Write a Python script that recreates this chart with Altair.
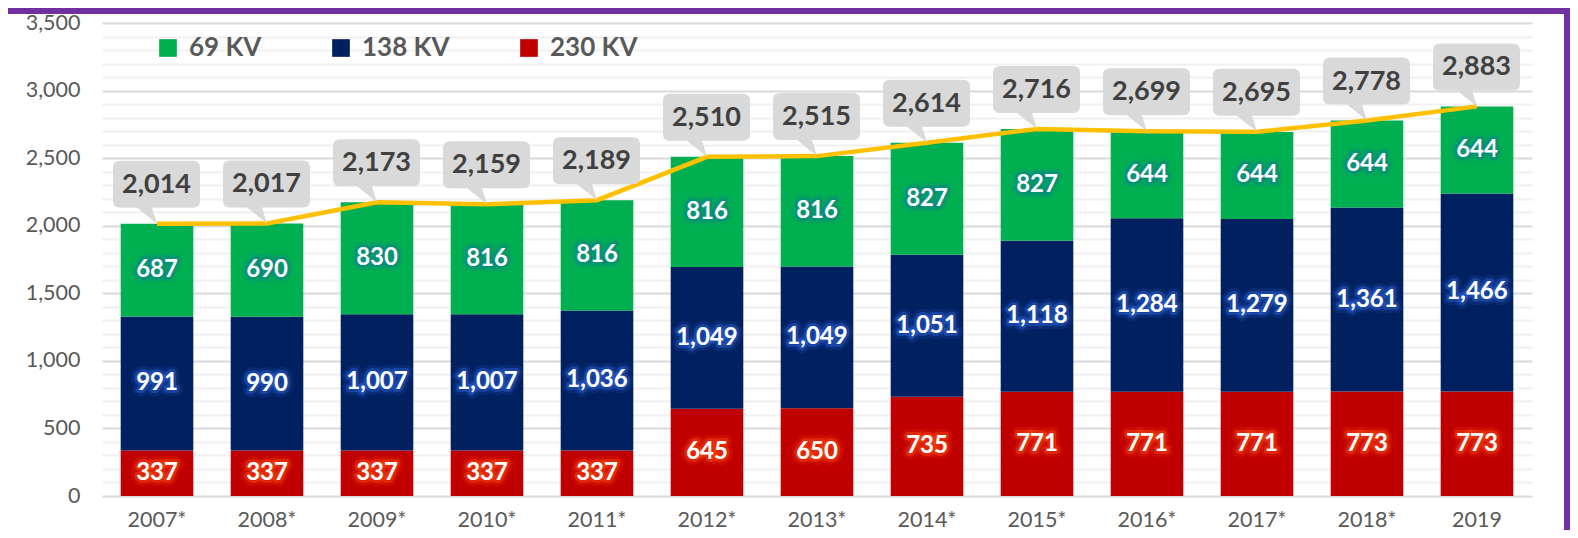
import altair as alt
import pandas as pd

years = ["2007*", "2008*", "2009*", "2010*", "2011*", "2012*", "2013*",
         "2014*", "2015*", "2016*", "2017*", "2018*", "2019"]
kv230 = [337, 337, 337, 337, 337, 645, 650, 735, 771, 771, 771, 773, 773]
kv138 = [991, 990, 1007, 1007, 1036, 1049, 1049, 1051, 1118, 1284, 1279, 1361, 1466]
kv69 = [687, 690, 830, 816, 816, 816, 816, 827, 827, 644, 644, 644, 644]
totals = [2014, 2017, 2173, 2159, 2189, 2510, 2515, 2614, 2716, 2699, 2695, 2778, 2883]
y_ticks = list(range(0, 3501, 100))

series_names = ["69 KV", "138 KV", "230 KV"]
series_colors = ["#00B050", "#002060", "#C00000"]
glow_colors = ["#0B7F8C", "#2F62D8", "#FF4A12"]

rows = []
for i, y in enumerate(years):
    lo = 0
    for name, vals, glow in [("230 KV", kv230, glow_colors[2]),
                             ("138 KV", kv138, glow_colors[1]),
                             ("69 KV", kv69, glow_colors[0])]:
        v = vals[i]
        rows.append({"year": y, "series": name, "value": v, "lo": lo,
                     "hi": lo + v, "mid": lo + v / 2, "glow": glow})
        lo += v
seg = pd.DataFrame(rows)
tot = pd.DataFrame({"year": years, "total": totals})

FONT = "Lato"
W, H = 1430, 473

xaxis = alt.Axis(labelFont=FONT, labelFontSize=21.5, labelColor="#595959",
                 labelAngle=0, ticks=False, domain=False, labelPadding=13, title=None)
xscale = alt.Scale(paddingInner=0.34, paddingOuter=0.17)
yscale = alt.Scale(domain=[0, 3500], nice=False, zero=True)
yaxis = alt.Axis(values=y_ticks, title=None, ticks=False, domain=False,
                 labelExpr="datum.value % 500 === 0 ? format(datum.value, ',') : ''",
                 labelOverlap=False,
                 labelFont=FONT, labelFontSize=21.5, labelColor="#595959", labelPadding=22,
                 gridColor={"condition": {"test": "datum.value % 500 === 0", "value": "#d9d9d9"},
                            "value": "#f0f0f0"},
                 gridWidth=2)


def X():
    return alt.X("year:N", sort=years, scale=xscale, axis=xaxis)


def Y(field):
    return alt.Y(field, scale=yscale, axis=yaxis)


bars = alt.Chart(seg).mark_bar().encode(
    x=X(),
    y=Y("lo:Q"),
    y2="hi:Q",
    color=alt.Color("series:N",
                    scale=alt.Scale(domain=series_names, range=series_colors),
                    legend=alt.Legend(title=None, orient="none", legendX=53, legendY=12,
                                      direction="horizontal", symbolType="square",
                                      symbolSize=313, symbolStrokeWidth=0,
                                      labelFont=FONT, labelFontSize=26, labelFontWeight="bold",
                                      labelColor="#595959", labelOffset=8, columnPadding=66,
                                      padding=0)),
)

glow1 = alt.Chart(seg).mark_text(font=FONT, fontSize=24, fontWeight="bold",
                                 strokeWidth=12, strokeOpacity=0.18, strokeJoin="round",
                                 baseline="middle").encode(
    x=X(), y=Y("mid:Q"),
    text=alt.Text("value:Q", format=",d"),
    stroke=alt.Stroke("glow:N", scale=None), fill=alt.Fill("glow:N", scale=None))
glow2 = alt.Chart(seg).mark_text(font=FONT, fontSize=24, fontWeight="bold",
                                 strokeWidth=6, strokeOpacity=0.45, strokeJoin="round",
                                 baseline="middle").encode(
    x=X(), y=Y("mid:Q"),
    text=alt.Text("value:Q", format=",d"),
    stroke=alt.Stroke("glow:N", scale=None), fill=alt.Fill("glow:N", scale=None))
labels = alt.Chart(seg).mark_text(font=FONT, fontSize=24, fontWeight="bold",
                                  color="white", baseline="middle").encode(
    x=X(), y=Y("mid:Q"),
    text=alt.Text("value:Q", format=",d"))

line = alt.Chart(tot).mark_line(color="#FFC000", strokeWidth=4.5).encode(
    x=X(), y=Y("total:Q"))

bubble_path = ("M-37,-63 L36,-63 Q43,-63 43,-56 L43,-23 Q43,-16 36,-16 L-5,-16 L0,0 "
               "L-20,-16 L-37,-16 Q-44,-16 -44,-23 L-44,-56 Q-44,-63 -37,-63 Z")
bubbles = alt.Chart(tot).mark_point(shape=bubble_path, size=4, filled=True,
                                    fill="#D9D9D9", opacity=1, strokeWidth=0).encode(
    x=X(), y=Y("total:Q"))
bubble_text = alt.Chart(tot).mark_text(font=FONT, fontSize=27, fontWeight="bold",
                                       color="#404040", dy=-39, dx=-0.5,
                                       baseline="middle").encode(
    x=X(), y=Y("total:Q"),
    text=alt.Text("total:Q", format=",d"))

border_top = alt.Chart(tot).mark_rect(color="#7030A0").encode(
    x=alt.value(-94), x2=alt.value(1468), y=alt.value(-15), y2=alt.value(-9))
border_right = alt.Chart(tot).mark_rect(color="#7030A0").encode(
    x=alt.value(1462), x2=alt.value(1468), y=alt.value(-15), y2=alt.value(H + 34))

chart = alt.layer(bars, line, bubbles, bubble_text, glow1, glow2, labels,
                  border_top, border_right).properties(
    width=W, height=H,
    autosize=alt.AutoSizeParams(type="none"),
    padding={"left": 94, "top": 15, "right": 38, "bottom": 34},
    background="white",
).configure_view(stroke=None)

chart.save("out.html", embed_options={"renderer": "svg", "actions": False})
